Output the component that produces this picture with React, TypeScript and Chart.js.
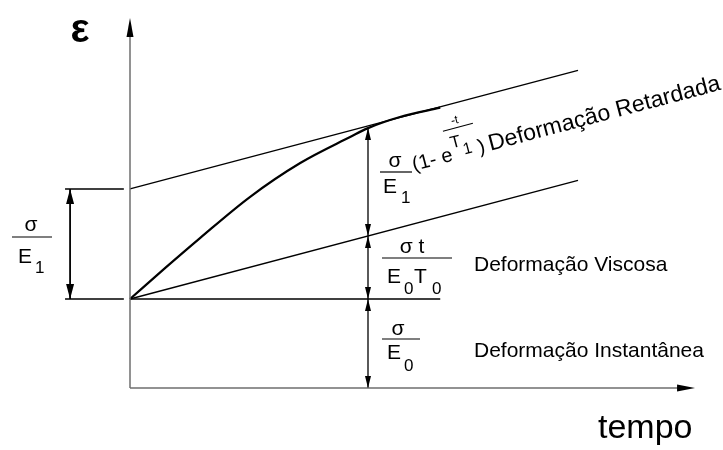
import React, { useEffect, useRef } from 'react';
import { Chart, registerables } from 'chart.js';

Chart.register(...registerables);

// Creep of a viscoelastic material: strain ε (in units of σ/E0) against time.
const curveTime = [0, 0.63, 1.25, 2.14, 3.04, 3.93, 4.25, 4.82, 5.54];
const curveStrain = [1.0, 1.35, 1.685, 2.146, 2.528, 2.82, 2.92, 3.045, 3.15];

const instantStrain = 1.0; // σ/E0
const delayedStrain = 1.236; // σ/E1
const viscousRate = 0.1665; // σ/(E0·T0) per unit of time
const lineEndTime = 8;
const levelEndTime = 5.54;
const markTime = 4.25;
const leftMarkTime = -1.07;
const leftTickTimes = [-1.16, -0.11];
const axisTimeEnd = 10.09;
const axisStrainTop = 4.157;

const timeLabel = 'tempo';
const strainLabel = 'ε';
const instantLabel = 'Deformação Instantânea';
const viscousLabel = 'Deformação Viscosa';
const delayedLabel = 'Deformação Retardada';

const FONT = '"Liberation Sans", Arial, sans-serif';
const INK = '#000000';
const AXIS = '#6e6e6e';

type Pt = { x: number; y: number };
const seg = (a: Pt, b: Pt) => [a, b];

const curvePoints: Pt[] = curveTime.map((t, i) => ({ x: t, y: curveStrain[i] }));
const markCurveStrain = curveStrain[curveTime.indexOf(markTime)];
const markViscousStrain = instantStrain + viscousRate * markTime;

function arrowHead(ctx: CanvasRenderingContext2D, x: number, y: number, dir: 'up' | 'down' | 'right', len: number, half: number) {
  ctx.beginPath();
  if (dir === 'up') {
    ctx.moveTo(x, y);
    ctx.lineTo(x - half, y + len);
    ctx.lineTo(x + half, y + len);
  } else if (dir === 'down') {
    ctx.moveTo(x, y);
    ctx.lineTo(x - half, y - len);
    ctx.lineTo(x + half, y - len);
  } else {
    ctx.moveTo(x, y);
    ctx.lineTo(x - len, y - half);
    ctx.lineTo(x - len, y + half);
  }
  ctx.closePath();
  ctx.fill();
}

function text(ctx: CanvasRenderingContext2D, s: string, x: number, y: number, size: number, align: CanvasTextAlign = 'left', weight = 'normal') {
  ctx.font = `${weight} ${size}px ${FONT}`;
  ctx.textAlign = align;
  ctx.textBaseline = 'alphabetic';
  ctx.fillText(s, x, y);
}

function hline(ctx: CanvasRenderingContext2D, x1: number, x2: number, y: number, w = 1.2) {
  ctx.lineWidth = w;
  ctx.beginPath();
  ctx.moveTo(x1, y);
  ctx.lineTo(x2, y);
  ctx.stroke();
}

const annotations = {
  id: 'creepAnnotations',
  afterDatasetsDraw(chart: any) {
    const ctx: CanvasRenderingContext2D = chart.ctx;
    const X = (t: number) => chart.scales.x.getPixelForValue(t);
    const Y = (e: number) => chart.scales.y.getPixelForValue(e);
    ctx.save();
    ctx.fillStyle = INK;
    ctx.strokeStyle = INK;

    // axis arrow heads
    arrowHead(ctx, X(0), Y(axisStrainTop), 'up', 19, 3.5);
    arrowHead(ctx, X(axisTimeEnd), Y(0), 'right', 18, 3.5);

    // dimension arrows on the measuring line
    const mx = X(markTime);
    const levels = [0, instantStrain, markViscousStrain, markCurveStrain];
    for (let i = 0; i < levels.length - 1; i++) {
      arrowHead(ctx, mx, Y(levels[i]), 'down', 12, 3);
      arrowHead(ctx, mx, Y(levels[i + 1]), 'up', 12, 3);
    }
    const lx = X(leftMarkTime);
    arrowHead(ctx, lx, Y(instantStrain), 'down', 15, 4);
    arrowHead(ctx, lx, Y(instantStrain + delayedStrain), 'up', 15, 4);

    // axis titles
    text(ctx, strainLabel, 80, 42, 40, 'center', 'bold');
    text(ctx, timeLabel, 598, 438, 34);

    // left σ/E1
    hline(ctx, 12, 52, 237);
    text(ctx, 'σ', 31, 231, 21, 'center');
    text(ctx, 'E', 18, 263, 21);
    text(ctx, '1', 35, 273, 17);

    // σ/E0 instantaneous
    hline(ctx, mx + 14, mx + 52, 339);
    text(ctx, 'σ', mx + 30, 335, 21, 'center');
    text(ctx, 'E', mx + 19, 359, 21);
    text(ctx, '0', mx + 36, 371, 17);
    text(ctx, instantLabel, mx + 106, 357, 21);

    // σt/E0T0 viscous
    hline(ctx, mx + 14, mx + 84, 258);
    text(ctx, 'σ t', mx + 44, 253, 21, 'center');
    text(ctx, 'E', mx + 19, 283, 21);
    text(ctx, '0', mx + 36, 294, 17);
    text(ctx, 'T', mx + 46, 283, 21);
    text(ctx, '0', mx + 64, 294, 17);
    text(ctx, viscousLabel, mx + 106, 271, 21);

    // σ/E1 (1 - e^(-t/T1)) delayed
    hline(ctx, mx + 12, mx + 44, 172);
    text(ctx, 'σ', mx + 27, 167, 21, 'center');
    text(ctx, 'E', mx + 15, 193, 21);
    text(ctx, '1', mx + 33, 203, 17);

    const ang = Math.atan2(Y(0) - Y(viscousRate), X(1) - X(0));
    ctx.translate(mx + 46, 171);
    ctx.rotate(-ang);
    text(ctx, '(1- e', 0, 0, 20);
    ctx.font = `normal 20px ${FONT}`;
    const w1 = ctx.measureText('(1- e').width;
    text(ctx, 'T', w1 + 1, -12, 17);
    text(ctx, '1', w1 + 12, -3, 16);
    hline(ctx, w1 - 3, w1 + 28, -31, 1);
    text(ctx, '-t', w1 + 11, -35, 12, 'center');
    text(ctx, ')', w1 + 27, 0, 20);
    text(ctx, delayedLabel, w1 + 38, 0, 23);
    ctx.restore();
  },
};

export default function App() {
  const ref = useRef<HTMLCanvasElement | null>(null);

  useEffect(() => {
    if (!ref.current) return;
    const line = (data: Pt[], width: number, color = INK, extra: any = {}) => ({
      data,
      showLine: true,
      borderColor: color,
      borderWidth: width,
      pointRadius: 0,
      fill: false,
      ...extra,
    });
    const chart = new Chart(ref.current, {
      type: 'scatter',
      data: {
        datasets: [
          // axes
          line(seg({ x: 0, y: 0 }, { x: 0, y: axisStrainTop - 0.15 }), 1.5, AXIS),
          line(seg({ x: 0, y: 0 }, { x: axisTimeEnd - 0.2, y: 0 }), 1.5, AXIS),
          // tangent (total) and viscous lines
          line(seg({ x: 0, y: instantStrain + delayedStrain }, { x: lineEndTime, y: instantStrain + delayedStrain + viscousRate * lineEndTime }), 1.3),
          line(seg({ x: 0, y: instantStrain }, { x: lineEndTime, y: instantStrain + viscousRate * lineEndTime }), 1.3),
          // instantaneous level and reference ticks
          line(seg({ x: 0, y: instantStrain }, { x: levelEndTime, y: instantStrain }), 1.5),
          line(seg({ x: leftTickTimes[0], y: instantStrain }, { x: leftTickTimes[1], y: instantStrain }), 1.5),
          line(seg({ x: leftTickTimes[0], y: instantStrain + delayedStrain }, { x: leftTickTimes[1], y: instantStrain + delayedStrain }), 1.5),
          // measuring lines
          line(seg({ x: markTime, y: 0 }, { x: markTime, y: markCurveStrain }), 1.3),
          line(seg({ x: leftMarkTime, y: instantStrain }, { x: leftMarkTime, y: instantStrain + delayedStrain }), 1.8),
          // creep curve
          line(curvePoints, 2.2, INK, { cubicInterpolationMode: 'monotone' }),
        ],
      },
      options: {
        animation: false,
        responsive: false,
        layout: { padding: 0 },
        plugins: { legend: { display: false }, tooltip: { enabled: false } },
        scales: {
          x: { type: 'linear', min: -130 / 56, max: 593 / 56, display: false },
          y: { type: 'linear', min: -62 / 89, max: 388 / 89, display: false },
        },
      },
      plugins: [annotations],
    });
    return () => chart.destroy();
  }, []);

  return (
    <div style={{ position: 'fixed', left: 0, top: 0, width: 723, height: 450, background: '#fff' }}>
      <canvas ref={ref} width={723} height={450} style={{ display: 'block' }} />
    </div>
  );
}
